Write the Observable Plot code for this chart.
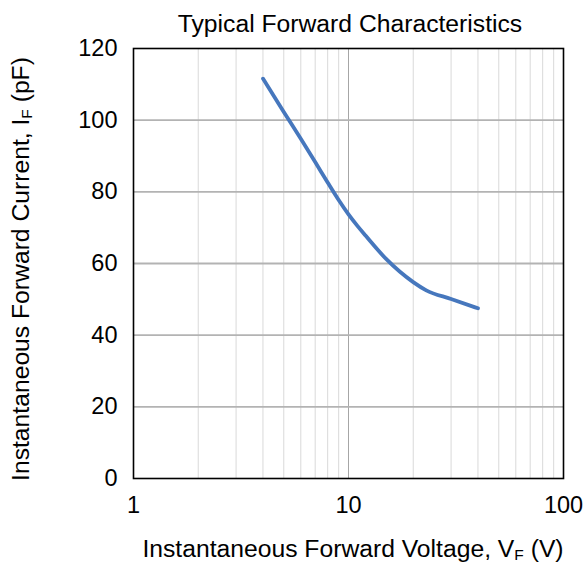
<!DOCTYPE html>
<html>
<head>
<meta charset="utf-8">
<script src="https://cdn.jsdelivr.net/npm/d3@7"></script>
<script src="https://cdn.jsdelivr.net/npm/@observablehq/plot@0.6"></script>
<style>
  html, body { margin: 0; padding: 0; background: #fff; }
  #chart { width: 584px; height: 564px; }
</style>
</head>
<body>
<div id="chart"></div>
<script>
// Data
const voltage = [4, 5, 6, 7, 8, 9, 10, 11, 12, 15, 20, 23, 30, 40];
const current = [111.6, 102.3, 94.8, 88.3, 82.6, 77.7, 73.7, 70.5, 67.8, 61.2, 54.8, 52.5, 50.1, 47.5];
const xTicks = [1, 10, 100];
const yTicks = [0, 20, 40, 60, 80, 100, 120];
const xMinorGrid = [2, 3, 4, 5, 6, 7, 8, 9, 20, 30, 40, 50, 60, 70, 80, 90];
const xMajorGrid = [10];
const yGrid = [20, 40, 60, 80, 100];
const titleText = "Typical Forward Characteristics";

const data = voltage.map((v, i) => ({v, c: current[i]}));

const W = 584, H = 564;
const mL = 133, mR = 21, mT = 48, mB = 86;

const chart = Plot.plot({
  width: W,
  height: H,
  marginLeft: mL,
  marginRight: mR,
  marginTop: mT,
  marginBottom: mB,
  style: {fontFamily: "'Liberation Sans', Arial, sans-serif", fontSize: "23.5px", color: "#000", background: "#fff"},
  x: {type: "log", domain: [1, 100], ticks: xTicks, tickFormat: d => String(d), tickSize: 0, tickPadding: 18, label: null},
  y: {domain: [0, 120], ticks: yTicks, tickSize: 0, tickPadding: 16, label: null},
  marks: [
    Plot.ruleX(xMinorGrid, {stroke: "#d9d9d9", strokeWidth: 1}),
    Plot.ruleX(xMajorGrid, {stroke: "#a6a6a6", strokeWidth: 1}),
    Plot.ruleY(yGrid, {stroke: "#b3b3b3", strokeWidth: 1.8}),
    Plot.line(data, {x: "v", y: "c", stroke: "#4677bd", strokeWidth: 3.8, curve: "monotone-x", strokeLinecap: "round"}),
    Plot.frame({stroke: "#000", strokeWidth: 1.6})
  ]
});

document.getElementById("chart").appendChild(chart);

const svg = d3.select(chart);
const font = "'Liberation Sans', Arial, sans-serif";

// Title
svg.append("text")
  .attr("x", 350)
  .attr("y", 32)
  .attr("text-anchor", "middle")
  .attr("font-family", font)
  .style("font-size", "24.7px")
  .attr("fill", "#000")
  .text(titleText);

// X axis label with subscript
const xl = svg.append("text")
  .attr("x", 353)
  .attr("y", 557)
  .attr("text-anchor", "middle")
  .attr("font-family", font)
  .style("font-size", "24.7px")
  .attr("fill", "#000");
xl.append("tspan").text("Instantaneous Forward Voltage, V");
xl.append("tspan").style("font-size", "15.5px").attr("dy", 3).text("F");
xl.append("tspan").attr("dy", -3).text(" (V)");

// Y axis label with subscript
const yl = svg.append("text")
  .attr("transform", "translate(29, 269) rotate(-90)")
  .attr("text-anchor", "middle")
  .attr("font-family", font)
  .style("font-size", "24.7px")
  .attr("fill", "#000");
yl.append("tspan").text("Instantaneous Forward Current, I");
yl.append("tspan").style("font-size", "15.5px").attr("dy", 3).text("F");
yl.append("tspan").attr("dy", -3).text(" (pF)");
</script>
</body>
</html>
